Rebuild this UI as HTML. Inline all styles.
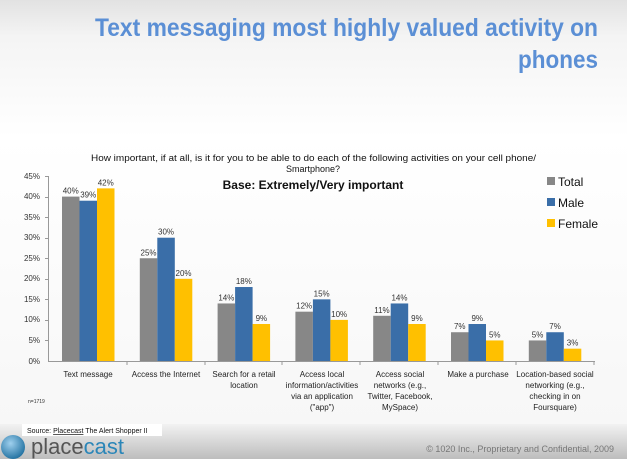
<!DOCTYPE html>
<html><head><meta charset="utf-8"><style>
body{margin:0;width:627px;height:459px;overflow:hidden;font-family:"Liberation Sans",sans-serif;}
</style></head><body>
<svg width="627" height="459" xmlns="http://www.w3.org/2000/svg" font-family="Liberation Sans, sans-serif">
<defs>
<linearGradient id="bg" x1="0" y1="0" x2="0" y2="1">
<stop offset="0" stop-color="#e2e2e2"/><stop offset="0.08" stop-color="#f4f4f4"/><stop offset="0.3" stop-color="#ffffff"/><stop offset="1" stop-color="#f6f6f6"/></linearGradient>
<linearGradient id="ft" x1="0" y1="0" x2="0" y2="1"><stop offset="0" stop-color="#f2f2f2"/><stop offset="1" stop-color="#bdbdbd"/></linearGradient>
<radialGradient id="gl" cx="0.4" cy="0.35" r="0.7"><stop offset="0" stop-color="#9fd0ee"/><stop offset="1" stop-color="#1d6e9e"/></radialGradient>
</defs>
<rect width="627" height="459" fill="url(#bg)"/>
<text x="95" y="36" textLength="503" lengthAdjust="spacingAndGlyphs" font-size="25" font-weight="bold" fill="#5b8fd5">Text  messaging most highly valued activity on</text>
<text x="518" y="68" textLength="80" lengthAdjust="spacingAndGlyphs" font-size="25" font-weight="bold" fill="#5b8fd5">phones</text>
<text x="91" y="161" textLength="445" lengthAdjust="spacingAndGlyphs" font-size="9" fill="#111">How important, if at all, is it for you to be able to do each of the following activities on your cell phone/</text>
<text x="313" y="172" text-anchor="middle" font-size="9" fill="#111">Smartphone?</text>
<text x="313" y="189" text-anchor="middle" font-size="12" font-weight="bold" fill="#111">Base: Extremely/Very important</text>
<g font-size="8" fill="#333" text-anchor="end">
<text x="40" y="364">0%</text><text x="40" y="343">5%</text><text x="40" y="322">10%</text><text x="40" y="302">15%</text><text x="40" y="281">20%</text><text x="40" y="261">25%</text><text x="40" y="240">30%</text><text x="40" y="220">35%</text><text x="40" y="199">40%</text><text x="40" y="179">45%</text>
</g>
<g stroke="#999" stroke-width="1">
<line x1="48.5" y1="176" x2="48.5" y2="361"/>
<line x1="48" y1="361.5" x2="595" y2="361.5"/>
<line x1="45" y1="176.5" x2="48" y2="176.5"/><line x1="45" y1="197.5" x2="48" y2="197.5"/><line x1="45" y1="217.5" x2="48" y2="217.5"/><line x1="45" y1="238.5" x2="48" y2="238.5"/><line x1="45" y1="258.5" x2="48" y2="258.5"/><line x1="45" y1="279.5" x2="48" y2="279.5"/><line x1="45" y1="299.5" x2="48" y2="299.5"/><line x1="45" y1="320.5" x2="48" y2="320.5"/><line x1="45" y1="340.5" x2="48" y2="340.5"/>
<line x1="127" y1="361" x2="127" y2="365"/><line x1="205" y1="361" x2="205" y2="365"/><line x1="282" y1="361" x2="282" y2="365"/><line x1="360" y1="361" x2="360" y2="365"/><line x1="438" y1="361" x2="438" y2="365"/><line x1="516" y1="361" x2="516" y2="365"/><line x1="594" y1="361" x2="594" y2="365"/>
</g>
<g id="bars"></g>
<g font-size="8" fill="#222" text-anchor="middle">
<text x="88" y="377">Text message</text>
<text x="166" y="377">Access the Internet</text>
<text x="244" y="377">Search for a retail</text><text x="244" y="388">location</text>
<text x="322" y="377">Access local</text><text x="322" y="388">information/activities</text><text x="322" y="399">via an application</text><text x="322" y="410">("app")</text>
<text x="400" y="377">Access social</text><text x="400" y="388">networks (e.g.,</text><text x="400" y="399">Twitter, Facebook,</text><text x="400" y="410">MySpace)</text>
<text x="478" y="377">Make a purchase</text>
<text x="555" y="377">Location-based social</text><text x="555" y="388">networking (e.g.,</text><text x="555" y="399">checking in on</text><text x="555" y="410">Foursquare)</text>
</g>
<text x="28" y="403" font-size="5" fill="#333">n=1719</text>
<g font-size="12" fill="#111">
<rect x="547" y="177" width="8" height="8" fill="#878787"/><text x="558" y="186">Total</text>
<rect x="547" y="198" width="8" height="8" fill="#3a6ea8"/><text x="558" y="207">Male</text>
<rect x="547" y="219" width="8" height="8" fill="#ffc000"/><text x="558" y="228">Female</text>
</g>
<rect x="0" y="424" width="627" height="35" fill="url(#ft)"/>
<rect x="22" y="424" width="140" height="12" fill="#ffffff"/>
<text x="27" y="433" font-size="7" fill="#111">Source: <tspan text-decoration="underline">Placecast</tspan> The Alert Shopper II</text>
<circle cx="13" cy="447" r="12" fill="url(#gl)"/>
<text x="31" y="454" font-size="22" fill="#555">place<tspan fill="#2b86b8">cast</tspan></text>
<text x="614" y="452" text-anchor="end" font-size="9" fill="#777">© 1020 Inc., Proprietary and Confidential, 2009</text>
</svg>
<script>
var d=[[40,39,42],[25,30,20],[14,18,9],[12,15,10],[11,14,9],[7,9,5],[5,7,3]];
var c=["#878787","#3a6ea8","#ffc000"],g=document.getElementById("bars"),s="";
for(var i=0;i<7;i++)for(var j=0;j<3;j++){var v=d[i][j],x=49+77.8*i+13+17.5*j,h=v*4.11,y=361-h;
s+='<rect x="'+x+'" y="'+y+'" width="17.5" height="'+h+'" fill="'+c[j]+'"/>';
s+='<text x="'+(x+8.75)+'" y="'+(y-3)+'" font-size="8" fill="#333" text-anchor="middle">'+v+'%</text>';}
g.innerHTML=s;
</script>
</body></html>
